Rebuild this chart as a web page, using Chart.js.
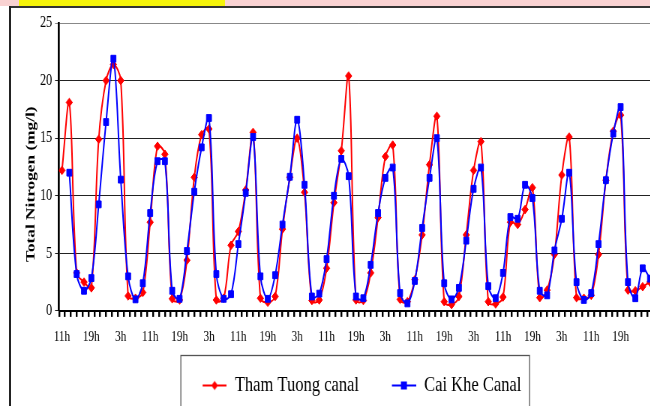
<!DOCTYPE html>
<html>
<head>
<meta charset="utf-8">
<script src="https://cdn.jsdelivr.net/npm/chart.js@4.4.0/dist/chart.umd.min.js"></script>
<style>
  html, body { margin:0; padding:0; background:#fff; overflow:hidden; width:650px; height:406px; }
  #wrap { position:absolute; left:0; top:0; width:650px; height:406px; overflow:hidden; }
  #c { position:absolute; left:0; top:0; transform: scaleX(0.75); transform-origin: 0 0; }
  .deco { position:absolute; z-index:5; }
</style>
</head>
<body>
<div id="wrap">
  <canvas id="c" width="900" height="408"></canvas>
  <div class="deco" style="left:0;top:0;width:650px;height:6px;background:#f9d2d2;"></div>
  <div class="deco" style="left:19px;top:0;width:206px;height:6px;background:#f6f40a;"></div>
  <div class="deco" style="left:9px;top:6px;width:641px;height:2px;background:#333;"></div>
  <div class="deco" style="left:9px;top:6px;width:2px;height:400px;background:#222;"></div>
</div>
<script>
// ---- data (sampled every 2 hours, starting at 11h) ----
const startHour = 11;
const stepHours = 2;
const thamTuong = [12.2,18.1,3.3,2.5,2.0,14.9,20.0,21.4,20.0,1.3,1.1,1.6,7.7,14.3,13.6,1.05,0.95,4.4,11.6,15.3,
  15.8,0.95,1.1,5.7,6.9,10.5,15.5,1.1,0.75,1.25,7.1,11.6,15.0,10.3,0.9,0.95,3.7,9.4,13.9,20.4,
  0.95,0.9,3.3,8.1,13.4,14.4,1.0,0.8,2.7,6.6,12.7,16.9,0.8,0.55,1.25,6.6,12.2,14.7,0.8,0.6,
  1.2,7.7,7.5,8.8,10.7,1.15,1.8,4.9,11.8,15.1,1.15,1.1,1.35,4.9,11.35,15.6,17.0,1.8,1.75,2.1,2.5];
const caiKhe = [null,12.0,3.2,1.75,2.85,9.25,16.4,21.9,11.4,3.0,1.0,2.4,8.5,13.0,13.0,1.75,1.05,5.2,10.35,14.2,
  16.75,3.2,1.05,1.45,5.8,10.25,15.1,3.0,1.05,3.1,7.5,11.65,16.6,10.95,1.25,1.5,4.5,10.0,13.2,11.7,
  1.25,1.1,4.0,8.5,11.55,12.45,1.55,0.65,2.6,7.2,11.55,15.0,2.4,1.0,2.0,6.1,10.6,12.45,2.15,1.1,
  3.3,8.15,8.0,10.95,9.8,1.75,1.35,5.25,8.0,12.0,2.5,0.95,1.55,5.8,11.35,15.4,17.7,2.5,1.1,3.7,2.8];
const tickLabels = ['11h','19h','3h','11h','19h','3h','11h','19h','3h','11h','19h','3h','11h','19h','3h','11h','19h','3h','11h','19h'];
const labelEveryHours = 8;
const seriesNames = ['Tham Tuong canal', 'Cai Khe Canal'];
const seriesColors = ['#ff0000', '#0000ff'];
const yTitle = 'Total Nitrogen (mg/l)';

const xMin = -0.8, xMax = 162, tickMarkStep = 1.6;
const iconMargin = 26, iconLine = 32;
const legendShift = -8;

function toPoints(arr) { return arr.map((v, i) => ({ x: i * stepHours, y: v })); }

function legendIcon(color, shape) {
  const cv = document.createElement('canvas');
  cv.width = iconMargin + iconLine; cv.height = 12;
  const g = cv.getContext('2d');
  g.strokeStyle = color; g.lineWidth = 2;
  g.beginPath(); g.moveTo(iconMargin, 6); g.lineTo(iconMargin + iconLine, 6); g.stroke();
  g.fillStyle = color;
  const c = iconMargin + iconLine / 2;
  g.beginPath();
  if (shape === 'diamond') { g.moveTo(c, 1.5); g.lineTo(c + 4.5, 6); g.lineTo(c, 10.5); g.lineTo(c - 4.5, 6); g.closePath(); }
  else { g.rect(c - 4, 2, 8, 8); }
  g.fill();
  return cv;
}
const legendIcons = [legendIcon(seriesColors[0], 'diamond'), legendIcon(seriesColors[1], 'square')];

const legendBorder = {
  id: 'legendBorder',
  afterLayout(chart) {
    const lg = chart.legend;
    if (lg) { lg.left += legendShift; lg.right += legendShift; }
  },
  afterDraw(chart) {
    const lg = chart.legend;
    if (!lg || !lg.legendHitBoxes || !lg.legendHitBoxes.length) return;
    const hb = lg.legendHitBoxes;
    const left = hb[0].left + iconMargin - 29;
    const last = hb[hb.length - 1];
    const right = last.left + last.width + 11;
    const top = lg.top - 1;
    const ctx = chart.ctx;
    ctx.save();
    ctx.strokeStyle = '#555';
    ctx.lineWidth = 1.3;
    ctx.strokeRect(left, top, right - left, chart.height + 20 - top);
    ctx.restore();
  }
};

new Chart(document.getElementById('c'), {
  type: 'line',
  data: {
    datasets: [
      { label: seriesNames[0], data: toPoints(thamTuong), borderColor: seriesColors[0], backgroundColor: seriesColors[0],
        borderWidth: 2, pointStyle: 'rectRot', pointRadius: 4.3, pointBorderWidth: 1, tension: 0.35, order: 1, fill: false },
      { label: seriesNames[1], data: toPoints(caiKhe), borderColor: seriesColors[1], backgroundColor: seriesColors[1],
        borderWidth: 2, pointStyle: 'rect', pointRadius: 4.8, pointBorderWidth: 1, tension: 0.35, order: 0, fill: false }
    ]
  },
  options: {
    responsive: false,
    animation: false,
    devicePixelRatio: 1,
    layout: { padding: { left: 30.8, top: 23, right: 23.5, bottom: 1.5 } },
    plugins: {
      tooltip: { enabled: false },
      legend: {
        position: 'bottom',
        fullSize: false,
        labels: {
          usePointStyle: true,
          pointStyleWidth: iconMargin + iconLine,
          padding: 18,
          color: '#000',
          font: { family: 'Liberation Serif', size: 22 },
          generateLabels: (chart) => chart.data.datasets.map((ds, i) => ({
            text: ds.label, pointStyle: legendIcons[i], datasetIndex: i, hidden: false,
            fontColor: '#000', lineWidth: 0, strokeStyle: 'rgba(0,0,0,0)', fillStyle: 'rgba(0,0,0,0)'
          }))
        }
      }
    },
    scales: {
      x: {
        type: 'linear', min: xMin, max: xMax, position: 'bottom', weight: 0,
        afterBuildTicks: (axis) => {
          const t = [];
          for (let v = xMin; v <= xMax + 1e-6; v += tickMarkStep) t.push({ value: v });
          axis.ticks = t;
        },
        ticks: { display: false },
        grid: { display: true, drawOnChartArea: false, drawTicks: true, tickLength: 6, color: '#000', lineWidth: 2.4 },
        border: { display: true, color: '#000', width: 2 }
      },
      x2: {
        type: 'linear', min: xMin, max: xMax, position: 'bottom', weight: 1,
        afterBuildTicks: (axis) => {
          axis.ticks = tickLabels.map((_, i) => ({ value: i * labelEveryHours }));
        },
        ticks: {
          autoSkip: false, maxRotation: 0, padding: 10.8, color: '#000',
          font: { family: 'Liberation Serif', size: 15 },
          callback: (v, i) => tickLabels[i]
        },
        grid: { display: false, drawTicks: false },
        border: { display: false }
      },
      y: {
        min: 0, max: 25,
        afterFit: (scale) => { scale.width = 47.9; },
        ticks: { stepSize: 5, padding: 4, color: '#000', font: { family: 'Liberation Serif', size: 16 } },
        grid: {
          color: (ctx) => ctx.tick && ctx.tick.value === 25 ? '#888' : '#222',
          lineWidth: 1, tickLength: 5.3, drawTicks: true
        },
        border: { display: true, color: '#000', width: 2.7 },
        title: {
          display: true, text: yTitle + '        ', color: '#000',
          font: { family: 'Liberation Serif', size: 17.3, weight: 'bold' },
          padding: { top: 0, bottom: 2 }
        }
      }
    }
  },
  plugins: [legendBorder]
});
</script>
</body>
</html>
